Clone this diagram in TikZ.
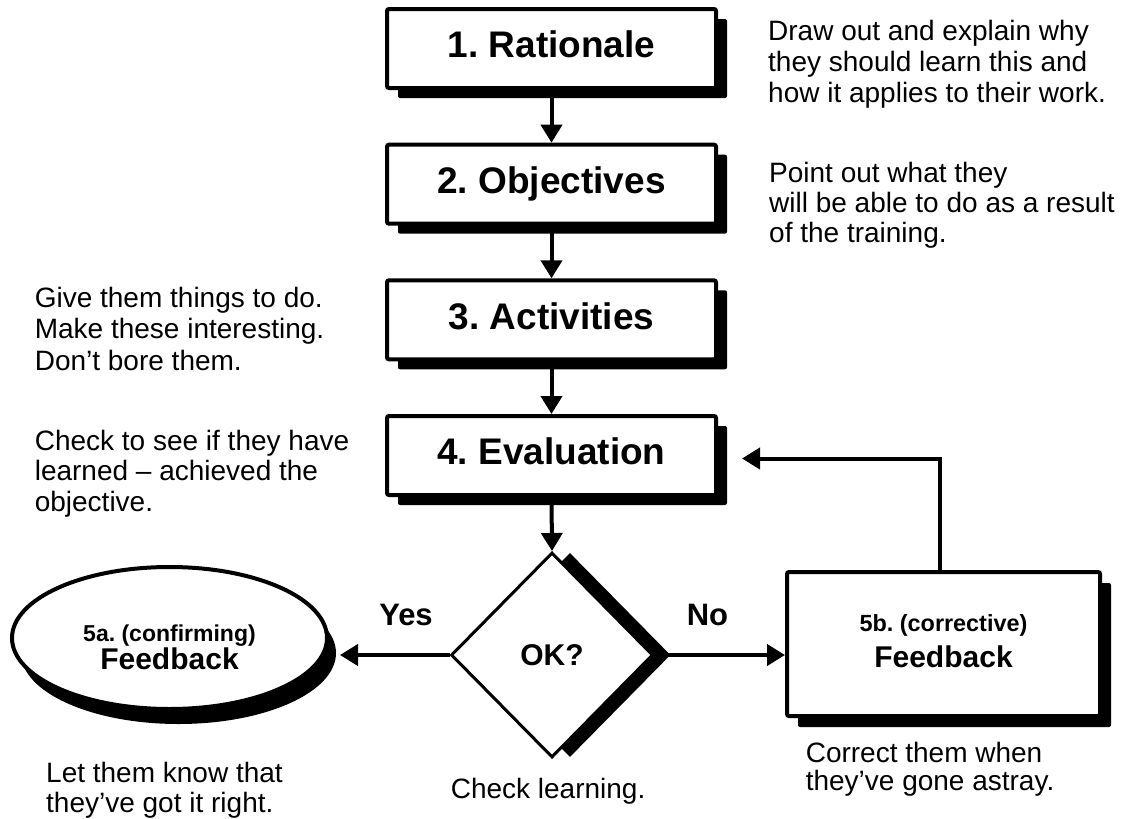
\documentclass[tikz,border=0pt]{standalone}
\usepackage{fontspec}
\setmainfont{Liberation Sans}
\frenchspacing
\usetikzlibrary{shapes.geometric,shadows,arrows.meta}
\tikzset{
  stepbox/.style={draw, line width=4pt, fill=white, rounded corners=2pt,
    minimum width=329pt, minimum height=79pt, inner sep=0pt,
    font=\fontsize{37}{40}\selectfont\bfseries, text height=26.5pt, text depth=8pt,
    drop shadow={shadow xshift=11pt, shadow yshift=-10pt, fill=black, opacity=1}},
  decide/.style={diamond, draw, line width=3pt, fill=white,
    minimum width=202pt, minimum height=205pt, inner sep=0pt,
    font=\fontsize{30}{30}\selectfont\bfseries, text height=21.5pt, text depth=0pt,
    drop shadow={shadow xshift=18pt, shadow yshift=0pt, fill=black, opacity=1}},
  okfb/.style={ellipse, draw, line width=4pt, fill=white,
    minimum width=315pt, minimum height=142pt, inner sep=0pt, align=center,
    font=\fontsize{30}{30}\selectfont\bfseries,
    drop shadow={shadow xshift=9pt, shadow yshift=-15pt, fill=black, opacity=1}},
  corrfb/.style={draw, line width=4pt, fill=white, rounded corners=2pt,
    minimum width=313pt, minimum height=144pt, inner sep=0pt, align=center,
    font=\fontsize{30}{36}\selectfont\bfseries,
    drop shadow={shadow xshift=11pt, shadow yshift=-11pt, fill=black, opacity=1}},
  note/.style={font=\fontsize{28}{31}\selectfont, align=left, inner sep=0pt, anchor=north west},
  branch/.style={font=\fontsize{31}{31}\selectfont\bfseries, inner sep=0pt, anchor=base},
  arr/.style={line width=4pt, -{Triangle[length=18pt,width=21pt]}},
}
\begin{document}
\begin{tikzpicture}[x=1pt,y=-1pt]
\fill[white] (0,0) rectangle (1125,819);
\useasboundingbox (0,0) rectangle (1125,819);

\node[stepbox] (b1) at (551.5,48.5) {1. Rationale};
\node[stepbox] (b2) at (551.5,184.2) {2. Objectives};
\node[stepbox] (b3) at (551.5,319.8) {3. Activities};
\node[stepbox] (b4) at (551.5,455.5) {4. Evaluation};
\node[decide] (ok) at (552,655) {OK?};
\node[okfb] (fa) at (169.5,638) {\rule{0pt}{36pt}\fontsize{23}{23}\selectfont 5a. (confirming)\\[-2pt]Feedback};
\node[corrfb] (fb) at (943.5,644) {\fontsize{23.4}{23}\selectfont 5b. (corrective)\\Feedback\rule[-6pt]{0pt}{6pt}};

\draw[arr] (b1.south) -- (b2.north);
\draw[arr] (b2.south) -- (b3.north);
\draw[arr] (b3.south) -- (b4.north);
\draw[arr] (b4.south) -- (ok.north);
\draw[arr] (ok.west) -- ([xshift=11pt]ok.west -| fa.east);
\draw[arr] (ok.east) -- (ok.east -| fb.west);
\draw[arr] ([xshift=-4pt]fb.north) |- ([xshift=24pt,yshift=-3pt]b4.east);

\node[branch] (yes) at (406,625) {Yes};
\node[branch] (no) at (707.5,625) {No};

\node[note] (n1) at (768,19.7) {Draw out and explain why\\they should learn this and\\how it applies to their work.};
\node[note, font=\fontsize{28}{30}\selectfont] (n2) at (769,161.7) {Point out what they\\will be able to do as a result\\of the training.};
\node[note, font=\fontsize{28}{31.5}\selectfont] (n3) at (34.6,286.7) {Give them things to do.\\Make these interesting.\\Don’t bore them.};
\node[note, font=\fontsize{28}{30.5}\selectfont] (n4) at (34.6,429.7) {Check to see if they have\\learned – achieved the\\objective.};
\node[note, font=\fontsize{28}{30}\selectfont] (n5) at (46,761.7) {Let them know that\\they’ve got it right.};
\node[note] (n6) at (450.6,777.7) {Check learning.};
\node[note, font=\fontsize{28}{28}\selectfont] (n7) at (805.6,741.7) {Correct them when\\they’ve gone astray.};
\end{tikzpicture}
\end{document}
